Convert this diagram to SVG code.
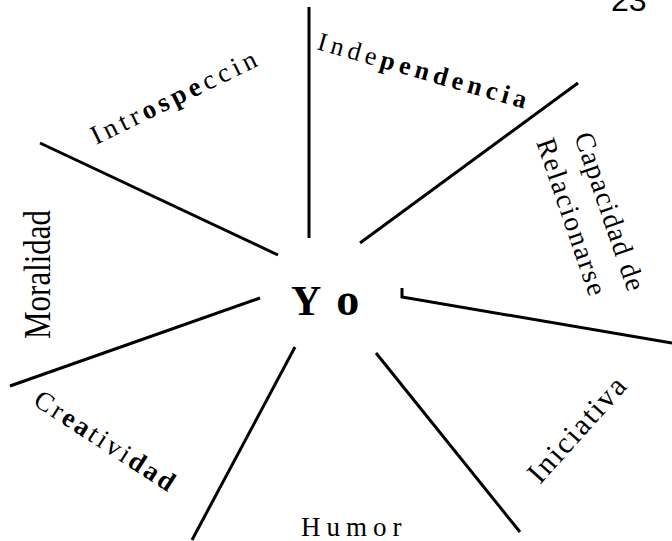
<svg xmlns="http://www.w3.org/2000/svg" width="672" height="541" viewBox="0 0 672 541">
<style>
.ln{stroke:#000;stroke-width:3;fill:none;stroke-linecap:butt}
.t{font-family:"Liberation Serif","DejaVu Serif",serif;fill:#000}
.b{font-weight:bold}
</style>
<rect width="672" height="541" fill="#fff"/>
<g id="connectors">
<line class="ln" x1="309" y1="7" x2="309" y2="238"/>
<line class="ln" x1="578" y1="83" x2="360" y2="243"/>
<line class="ln" x1="40" y1="143" x2="278" y2="255"/>
<polyline class="ln" points="402,288 402,297 672,343"/>
<line class="ln" x1="10" y1="386" x2="260" y2="298"/>
<line class="ln" x1="192" y1="540" x2="295" y2="347"/>
<line class="ln" x1="376" y1="353" x2="520" y2="532"/>
</g>
<g id="page"><text x="611" y="11" font-family="Liberation Sans,Arial,sans-serif" font-size="32">23</text></g>
<g id="yo"><text class="t" x="291" y="315" style="font-size:42px;font-weight:bold;letter-spacing:15px">Y<tspan style="font-size:46px">o</tspan></text></g>
<g id="independencia"><text class="t" transform="translate(316,49) rotate(16)" style="font-size:26px;letter-spacing:4.8px">Inde<tspan class="b">pendencia</tspan></text></g>
<g id="introspeccion"><text class="t" transform="translate(96,145) rotate(-26)" style="font-size:27px;letter-spacing:4.2px">Intr<tspan class="b">ospe</tspan>ccin</text></g>
<g id="capacidad"><text class="t" transform="translate(574,136) rotate(71)" style="font-size:28px;letter-spacing:1.3px">Capacidad de</text>
<text class="t" transform="translate(536,142) rotate(71)" style="font-size:28px;letter-spacing:1.8px">Relacionarse</text></g>
<g id="moralidad"><text class="t" transform="translate(50,339) rotate(-90) scale(1,1.2)" style="font-size:31px">Moralidad</text></g>
<g id="creatividad"><text class="t" transform="translate(32,404) rotate(33)" style="font-size:27px;letter-spacing:3px">Cr<tspan class="b">ea</tspan>tivi<tspan class="b">dad</tspan></text></g>
<g id="humor"><text class="t" x="301" y="536" style="font-size:27px;letter-spacing:6px">Humor</text></g>
<g id="iniciativa"><text class="t" transform="translate(540,485) rotate(-48)" style="font-size:30px;letter-spacing:2px">Iniciativa</text></g>
</svg>
